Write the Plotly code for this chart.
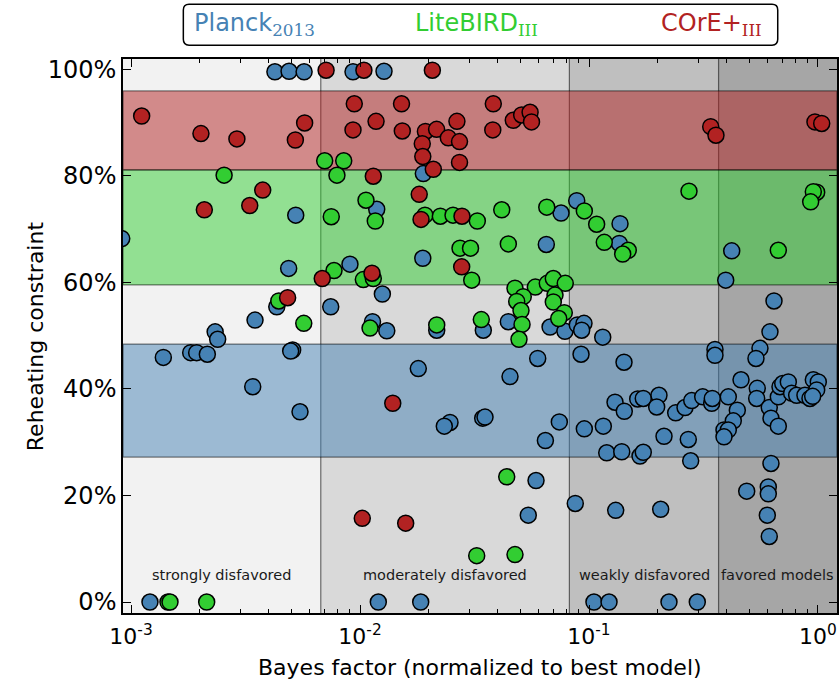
import math
import plotly.graph_objects as go

# ---------------- data ----------------
planck_bayes = [0.00425, 0.0049, 0.0057, 0.00932, 0.01273,
                0.000911, 0.00524, 0.00488, 0.0189, 0.01183, 0.00904, 0.0188, 0.01252,
                0.00745, 0.00348, 0.00433, 0.00233, 0.00239, 0.01134, 0.01309, 0.02163,
                0.03455, 0.00508, 0.01797, 0.00547, 0.02472, 0.02334, 0.03434, 0.03515,
                0.001384, 0.001822, 0.001935, 0.002154, 0.0034, 0.00498,
                0.00121, 0.01202, 0.01841, 0.1051, 0.1223, 0.2235, 0.2971,
                0.04519, 0.0597, 0.0742, 0.0645, 0.0923, 0.0954, 0.1155, 0.1422, 0.1299,
                0.1426, 0.1632, 0.1726, 0.2021, 0.1975, 0.1195, 0.139, 0.167, 0.1726,
                0.2126, 0.2391, 0.2626, 0.2809, 0.3137, 0.3434, 0.3455, 0.2714, 0.278,
                0.3549, 0.3549, 0.4058, 0.4443, 0.4267, 0.3886, 0.4058, 0.3886, 0.4611,
                0.543, 0.5398, 0.5579, 0.536, 0.617, 0.6127, 0.6233, 0.671, 0.671,
                0.6823, 0.7015, 0.742, 0.767, 0.807, 0.877, 0.9226, 0.954, 1.003, 0.987,
                0.948, 0.6233, 0.6067, 0.6067, 0.4883, 0.6007, 0.6127, 0.0871, 0.1308,
                0.2056, 0.0587, 0.0543, 0.0676, 0.0785, 0.0889, 0.0951, 0.0929, 0.1148,
                0.04443, 0.0651, 0.1366, 0.1356, 0.0884, 0.0755, 0.42, 0.3954, 0.6425]
planck_reheat = [99.5, 99.6, 99.5, 99.5, 99.6,
                 68.2, 72.6, 62.6, 80.4, 73.7, 63.4, 64.5, 57.8,
                 55.4, 52.9, 55.4, 50.7, 49.3, 52.6, 50.9, 51.0,
                 51.0, 47.3, 43.8, 35.7, 33.7, 33.0, 34.5, 34.7,
                 45.9, 46.8, 46.8, 46.5, 40.4, 47.1,
                 0, 0, 0, 0, 0, 0, 0,
                 42.3, 45.7, 33.8, 30.3, 46.5, 32.5, 33.0, 45.0, 37.5,
                 35.8, 38.1, 38.2, 38.8, 36.6, 28.0, 28.2, 27.4, 28.1,
                 31.1, 35.5, 36.5, 37.8, 38.5, 37.3, 38.2, 30.5, 26.5,
                 47.4, 46.3, 38.5, 36.0, 34.0, 32.3, 32.3, 31.0, 41.7,
                 40.1, 38.2, 47.6, 45.7, 50.7, 36.5, 34.5, 33.0, 38.5,
                 40.4, 41.0, 41.3, 39.2, 38.8, 38.8, 38.2, 41.7, 41.3, 39.8,
                 38.6, 26.0, 21.6, 20.3, 20.8, 16.3, 12.3, 18.5, 17.2,
                 17.4, 22.8, 16.3, 51.6, 50.8, 52.0, 52.3, 51.0, 49.7,
                 52.6, 67.1, 71.0, 67.3, 75.3, 73.0, 65.9, 60.4, 56.5]

litebird_bayes = [0.00701, 0.00849, 0.00793, 0.00255, 0.01062, 0.01166, 0.00749, 0.01922,
                  0.02243, 0.02548, 0.03253, 0.02733, 0.03038, 0.03075, 0.0077, 0.01034,
                  0.01143, 0.00442, 0.00568, 0.01106, 0.02163, 0.03386, 0.04158, 0.0654,
                  0.04443, 0.0954, 0.108, 0.1166, 0.1484, 0.1403, 0.2733, 0.987, 0.954,
                  0.929, 0.671, 0.04751, 0.05829, 0.06574, 0.06984, 0.07876, 0.05163,
                  0.04834, 0.05047, 0.051, 0.04946, 0.07104, 0.06984, 0.078, 0.07375,
                  0.04372, 0.03233, 0.04751, 0.00145, 0.00148, 0.00214]
litebird_reheat = [82.8, 82.8, 80.1, 80.1, 75.4, 71.5, 72.3, 72.6,
                   72.4, 72.6, 71.5, 66.4, 66.4, 60.4, 62.2, 60.5,
                   60.7, 56.5, 52.3, 51.4, 52.0, 53.0, 73.6, 74.1,
                   67.2, 73.4, 70.9, 67.5, 66.0, 65.3, 77.1, 76.9, 77.0,
                   75.1, 66.0, 58.9, 59.1, 59.8, 60.7, 59.8, 57.3,
                   56.4, 54.7, 52.1, 49.3, 57.6, 56.3, 54.3, 53.2,
                   23.5, 8.7, 8.9, 0, 0, 0]

core_bayes = [0.00711, 0.0104, 0.0207, 0.001113, 0.00202, 0.0029, 0.00522, 0.00573,
              0.00944, 0.00932, 0.01175, 0.01518, 0.0153, 0.0193, 0.0216, 0.0187,
              0.0188, 0.0243, 0.0265, 0.0272, 0.0272, 0.0209, 0.0382, 0.038, 0.0467,
              0.0508, 0.0553, 0.0561, 0.34, 0.3585, 0.97, 1.038,
              0.01143, 0.00376, 0.0033, 0.00209, 0.01814, 0.01847, 0.02788, 0.0278,
              0.01128, 0.00684, 0.00483, 0.0139, 0.01023, 0.01583]
core_reheat = [99.8, 99.8, 99.8, 91.2, 87.9, 86.9, 86.7, 89.9,
               93.5, 88.6, 90.2, 93.5, 88.4, 88.3, 88.7, 86.0,
               83.6, 87.1, 90.2, 86.4, 82.5, 81.2, 93.5, 88.6, 90.4,
               91.4, 91.9, 90.1, 89.2, 87.6, 90.1, 89.8,
               79.9, 77.3, 74.4, 73.6, 76.5, 71.8, 72.4, 62.9,
               61.7, 60.7, 57.1, 37.3, 15.7, 14.8]

# Jeffreys-scale region limits (Bayes factor) and their labels
region_edges = [0.00674, 0.0821, 0.368]
region_labels = ["strongly disfavored", "moderately disfavored",
                 "weakly disfavored", "favored models"]
region_label_x = [0.00249, 0.0235, 0.174, 0.668]
region_label_y = 5.0

# horizontal constraint bands (percent)
planck_band = [27.2, 48.4]
litebird_band = [59.5, 81.1]
core_band = [81.1, 95.9]

x_tick_values = [0.001, 0.01, 0.1, 1]
x_tick_labels = ["10<sup>-3</sup>", "10<sup>-2</sup>", "10<sup>-1</sup>", "10<sup>0</sup>"]
y_tick_values = [0, 20, 40, 60, 80, 100]
y_tick_labels = ["0%", "20%", "40%", "60%", "80%", "100%"]

x_title = "Bayes factor (normalized to best model)"
y_title = "Reheating constraint"

# ---------------- styling ----------------
XRANGE = [-3.035, 0.083]
YRANGE = [-2.06, 101.9]
FONT = "DejaVu Sans"
C_BLUE, C_GREEN, C_RED = "#4682b4", "#32cd32", "#b22222"

fig = go.Figure()

for xs, ys, col, name in [(planck_bayes, planck_reheat, C_BLUE, "Planck 2013"),
                          (litebird_bayes, litebird_reheat, C_GREEN, "LiteBIRD III"),
                          (core_bayes, core_reheat, C_RED, "COrE+ III")]:
    fig.add_trace(go.Scatter(x=xs, y=ys, mode="markers", name=name, showlegend=False,
                             marker=dict(size=16, color=col,
                                         line=dict(color="black", width=1.5))))

shapes = []
xmin, xmax = 10 ** XRANGE[0], 10 ** XRANGE[1]
edges = [xmin] + region_edges + [xmax]
gray_alpha = [0.05, 0.15, 0.25, 0.35]
for i in range(4):
    shapes.append(dict(type="rect", xref="x", yref="y domain", x0=edges[i], x1=edges[i + 1],
                       y0=0, y1=1, fillcolor=f"rgba(0,0,0,{gray_alpha[i]})",
                       line=dict(width=0), layer="below"))
for e in region_edges:
    shapes.append(dict(type="line", xref="x", yref="y domain", x0=e, x1=e, y0=0, y1=1,
                       line=dict(color="rgba(0,0,0,0.55)", width=1.2), layer="below"))
for band, rgb in [(planck_band, "70,130,180"), (litebird_band, "50,205,50"), (core_band, "178,34,34")]:
    shapes.append(dict(type="rect", xref="x domain", yref="y", x0=0, x1=1, y0=band[0], y1=band[1],
                       fillcolor=f"rgba({rgb},0.5)", line=dict(color="rgba(0,0,0,0.5)", width=1.2),
                       layer="below"))

# legend box (rounded rectangle, paper coords)
bx0, bx1, by0, by1 = 0.0845, 0.917, 1.025, 1.099
rx, ry = 0.008, 0.0105
path = (f"M {bx0+rx},{by0} L {bx1-rx},{by0} Q {bx1},{by0} {bx1},{by0+ry} "
        f"L {bx1},{by1-ry} Q {bx1},{by1} {bx1-rx},{by1} L {bx0+rx},{by1} "
        f"Q {bx0},{by1} {bx0},{by1-ry} L {bx0},{by0+ry} Q {bx0},{by0} {bx0+rx},{by0} Z")
shapes.append(dict(type="path", xref="paper", yref="paper", path=path,
                   fillcolor="white", line=dict(color="black", width=1.5)))

annotations = []
for lab, lx in zip(region_labels, region_label_x):
    annotations.append(dict(x=math.log10(lx), y=region_label_y, xref="x", yref="y", text=lab,
                            showarrow=False, font=dict(family=FONT, size=14.5, color="#1a1a1a"),
                            xanchor="center", yanchor="middle"))

sub = "<sub><span style=\"font-family:'DejaVu Serif'\">{}</span></sub>"
for txt, subtxt, col, px in [("Planck", "2013", C_BLUE, 0.097),
                             ("LiteBIRD", "III", C_GREEN, 0.406),
                             ("COrE+", "III", C_RED, 0.751)]:
    annotations.append(dict(x=px, y=1.063, xref="paper", yref="paper",
                            text=txt + sub.format(subtxt), showarrow=False,
                            xanchor="left", yanchor="middle",
                            font=dict(family=FONT, size=24, color=col)))

# axis titles placed precisely
annotations.append(dict(x=0.5, y=-0.0975, xref="paper", yref="paper", text=x_title,
                        showarrow=False, xanchor="center", yanchor="middle",
                        font=dict(family=FONT, size=22)))
annotations.append(dict(x=-0.123, y=0.5, xref="paper", yref="paper", text=y_title,
                        showarrow=False, xanchor="center", yanchor="middle", textangle=-90,
                        font=dict(family=FONT, size=22)))

fig.update_layout(
    width=839, height=684,
    margin=dict(l=123, r=2, t=59, b=71),
    paper_bgcolor="white", plot_bgcolor="white",
    font=dict(family=FONT, color="black"),
    shapes=shapes, annotations=annotations,
    xaxis=dict(type="log", range=XRANGE, tickmode="array", tickvals=x_tick_values,
               ticktext=x_tick_labels, ticks="inside", ticklen=8, tickwidth=1,
               tickcolor="black", mirror="allticks", showline=True, linecolor="black",
               linewidth=1.5, showgrid=False, zeroline=False, automargin=False,
               ticklabelstandoff=3,
               tickfont=dict(family=FONT, size=22),
               minor=dict(ticks="inside", ticklen=4, tickcolor="black", dtick="D1", showgrid=False)),
    yaxis=dict(range=YRANGE, tickmode="array", tickvals=y_tick_values, ticktext=y_tick_labels,
               ticks="inside", ticklen=8, tickwidth=1, tickcolor="black", mirror="allticks",
               showline=True, linecolor="black", linewidth=1.5, showgrid=False, zeroline=False,
               automargin=False, tickfont=dict(family=FONT, size=24)),
)

# remove the default 8px page margin so the figure fills the window exactly
fig.write_html("out.html", config={"displayModeBar": False},
               post_script="document.body.style.margin='0px';")
